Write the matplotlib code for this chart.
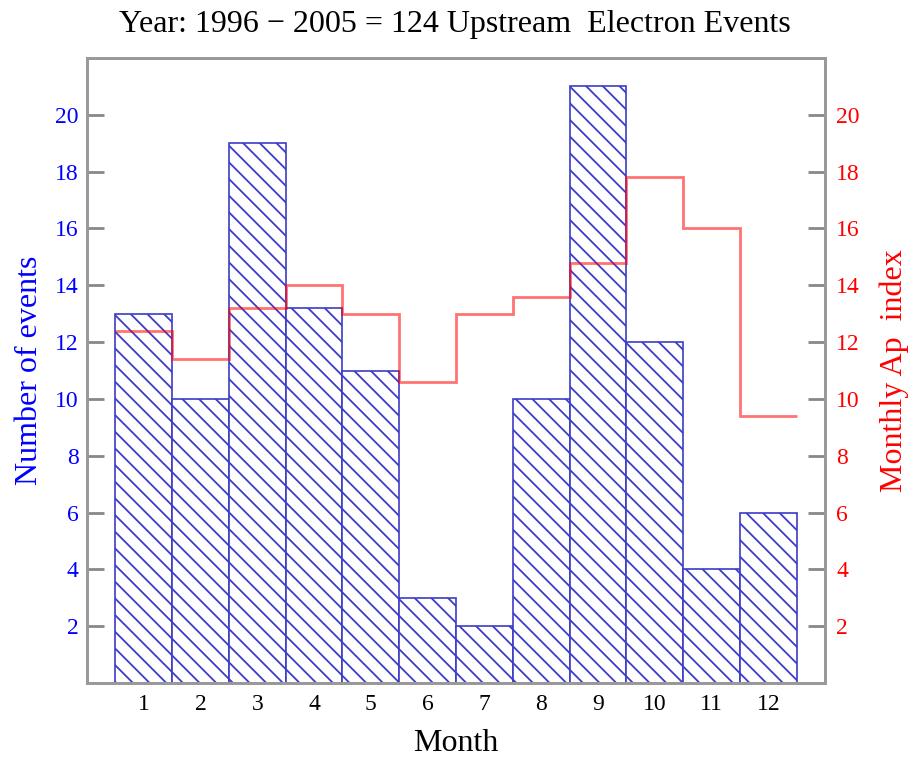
import numpy as np
import matplotlib.pyplot as plt

plt.rcParams['font.family'] = ['Liberation Serif', 'DejaVu Serif']
plt.rcParams['hatch.linewidth'] = 1.3
plt.rcParams['hatch.color'] = '#5555dd'

# Data
months = np.arange(1, 13)
events = [13, 10, 19, 13.2, 11, 3, 2, 10, 21, 12, 4, 6]
ap_index = [12.4, 11.4, 13.2, 14, 13, 10.6, 13, 13.6, 14.8, 17.8, 16, 9.4]
yticks = np.arange(2, 21, 2)

fig = plt.figure(figsize = (9.1, 7.59), dpi = 100)
ax = fig.add_axes([0.0956, 0.1001, 0.811, 0.8235])

ax.bar(months, events, width = 1.0, facecolor = 'white', edgecolor = '#3c3cc8',
       linewidth = 1.2, hatch = '\\\\', zorder = 2)

ax2 = ax.twinx()
ax2.stairs(ap_index, np.arange(0.5, 13.5), baseline = None,
           color = 'red', alpha = 0.55, linewidth = 2)

for a in (ax, ax2):
    a.set_xlim(0, 13)
    a.set_ylim(0, 22)
    for s in a.spines.values():
        s.set_color('#999999')
        s.set_linewidth(2)

ax.set_xticks(months)
ax.set_yticks(yticks)
ax2.set_yticks(yticks)
ax.tick_params(axis = 'x', length = 0, labelsize = 17, pad = 8)
ax.tick_params(axis = 'y', direction = 'in', length = 12, width = 2, color = '#888888',
               labelcolor = 'blue', labelsize = 17, pad = 6)
ax2.tick_params(axis = 'y', direction = 'in', length = 12, width = 2, color = '#888888',
                labelcolor = 'red', labelsize = 17, pad = 8)

ax.set_xlabel('Month', fontsize = 23, labelpad = 10)
ax.set_ylabel('Number of events', fontsize = 23, color = 'blue', labelpad = 8)
ax2.set_ylabel('Monthly Ap  index', fontsize = 23, color = 'red', labelpad = 14)
fig.suptitle('Year: 1996 \u2212 2005 = 124 Upstream  Electron Events', fontsize = 23,
             y = 0.968, va = 'center')

plt.savefig('out.png', dpi = 100)
